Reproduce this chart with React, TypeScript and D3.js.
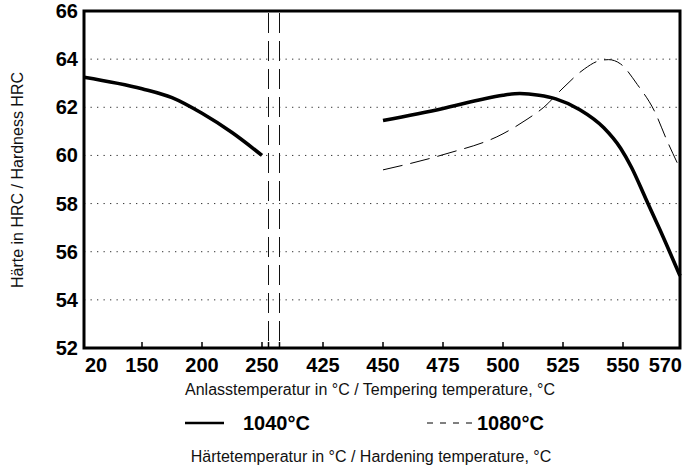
import React from "react"
import * as d3 from "d3"

// hardness after tempering, hardened at 1040°C (two separate pieces)
const temp1040Low = [20, 150, 175, 200, 225, 250]
const hrc1040Low = [63.25, 62.77, 62.4, 61.75, 60.95, 60.0]

const temp1040High = [450, 475, 490, 500, 507, 515, 522, 532, 542, 549, 553, 558, 563, 570]
const hrc1040High = [61.45, 61.95, 62.3, 62.5, 62.57, 62.5, 62.35, 61.9, 61.15, 60.3, 59.5, 58.2, 56.9, 55.0]

// hardened at 1080°C
const temp1080 = [450, 475, 500, 510, 517, 525, 534, 540, 544, 549, 555, 561, 565.5, 570]
const hrc1080 = [59.4, 60.03, 60.9, 61.5, 62.0, 62.8, 63.6, 63.93, 63.98, 63.8, 62.95, 61.85, 60.6, 59.45]

const xTicks = [20, 150, 200, 250, 425, 450, 475, 500, 525, 550, 570]
const yTicks = [52, 54, 56, 58, 60, 62, 64, 66]

const W = 699
const H = 474
const left = 84
const right = 680
const top = 11
const bottom = 348

const font = "'Liberation Sans', Arial, Helvetica, sans-serif"

export default function App() {
  // broken axis: piecewise linear scale
  const x = d3
    .scaleLinear()
    .domain([20, 150, 250, 425, 550, 570])
    .range([left, 142, 262, 323, 623, right])
  const y = d3.scaleLinear().domain([52, 66]).range([bottom, top])

  const line = d3
    .line<[number, number]>()
    .x((d) => x(d[0]))
    .y((d) => y(d[1]))
    .curve(d3.curveMonotoneX)

  const zip = (a: number[], b: number[]) => a.map((v, i) => [v, b[i]] as [number, number])

  const breaks = [x(250) + 6.5, x(250) + 17.5]

  return (
    <svg
      width={W}
      height={H}
      style={{ position: "absolute", left: 0, top: 0, background: "#fff" }}
      fontFamily={font}
    >
      {/* grid */}
      {yTicks
        .filter((t) => t > 52 && t < 66)
        .map((t) => (
          <line
            key={t}
            x1={left}
            x2={right}
            y1={y(t)}
            y2={y(t)}
            stroke="#333"
            strokeWidth={1}
            strokeDasharray="1.3,5.2"
          />
        ))}

      {/* axis break lines */}
      {breaks.map((bx) => (
        <line
          key={bx}
          x1={bx}
          x2={bx}
          y1={top + 2}
          y2={bottom}
          stroke="#111"
          strokeWidth={1}
          strokeDasharray="20,8"
        />
      ))}

      {/* curves */}
      <path d={line(zip(temp1040Low, hrc1040Low)) || ""} fill="none" stroke="#000" strokeWidth={3.6} />
      <path d={line(zip(temp1040High, hrc1040High)) || ""} fill="none" stroke="#000" strokeWidth={3.6} />
      <path
        d={line(zip(temp1080, hrc1080)) || ""}
        fill="none"
        stroke="#000"
        strokeWidth={1}
        strokeDasharray="20,8"
      />

      {/* frame */}
      <rect x={left} y={top} width={right - left} height={bottom - top} fill="none" stroke="#000" strokeWidth={3} />

      {/* x ticks */}
      {[...xTicks.slice(1, -1).map((t) => x(t)), ...breaks].map((px, i) => (
        <line key={i} x1={px} x2={px} y1={bottom} y2={bottom - 6} stroke="#000" strokeWidth={1.5} />
      ))}
      {xTicks.map((t, i) => (
        <text
          key={t}
          x={i === 0 ? left + 1 : i === xTicks.length - 1 ? right + 2 : x(t)}
          y={372}
          textAnchor={i === 0 ? "start" : i === xTicks.length - 1 ? "end" : "middle"}
          fontSize={20}
          fontWeight="bold"
        >
          {t}
        </text>
      ))}

      {/* y ticks */}
      {yTicks.map((t) => (
        <text key={t} x={78} y={y(t) + 7} textAnchor="end" fontSize={20} fontWeight="bold">
          {t}
        </text>
      ))}

      {/* axis titles */}
      <text
        transform={`translate(23,180) rotate(-90)`}
        textAnchor="middle"
        fontSize={16}
        fill="#111"
      >
        Härte in HRC / Hardness HRC
      </text>
      <text x={370} y={395} textAnchor="middle" fontSize={16} fill="#111">
        Anlasstemperatur in °C / Tempering temperature, °C
      </text>

      {/* legend */}
      <line x1={185} x2={224} y1={423} y2={423} stroke="#000" strokeWidth={2.5} />
      <text x={243} y={430} fontSize={20} fontWeight="bold">
        1040°C
      </text>
      <line x1={427} x2={472} y1={423} y2={423} stroke="#000" strokeWidth={1} strokeDasharray="6,7" />
      <text x={477} y={430} fontSize={20} fontWeight="bold">
        1080°C
      </text>
      <text x={371} y={462} textAnchor="middle" fontSize={16} fill="#111">
        Härtetemperatur in °C / Hardening temperature, °C
      </text>
    </svg>
  )
}
